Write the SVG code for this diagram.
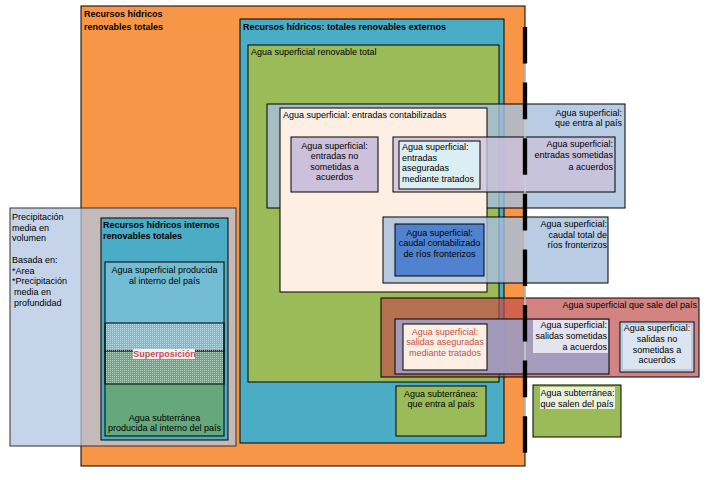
<svg xmlns="http://www.w3.org/2000/svg" width="707" height="480" viewBox="0 0 707 480">
<style>
text{font-family:"Liberation Sans",Arial,sans-serif;font-size:9px;fill:#000}
.b{font-weight:bold}
.m{text-anchor:middle}
.e{text-anchor:end}
.red{fill:#C0504D}
rect{stroke:#000;stroke-width:1}
rect.nb{stroke:none}
</style>
<defs>
<pattern id="dots" width="2" height="2" patternUnits="userSpaceOnUse">
<rect class="nb" x="0" y="0" width="1" height="1" fill="#ffffff" fill-opacity="0.5"/>
</pattern>
</defs>
<rect class="nb" width="707" height="480" fill="#fff"/>

<g id="recursos-totales">
<rect x="81" y="6" width="444" height="460" fill="#F79646"/>
<text class="b" x="84" y="17">Recursos hídricos</text>
<text class="b" x="84" y="30">renovables totales</text>
</g>

<g id="externos">
<rect x="240" y="19" width="264" height="424" fill="#4BACC6"/>
<text class="b" x="243" y="29.5">Recursos hídricos: totales renovables externos</text>
</g>

<g id="superficial-total">
<rect x="248" y="45" width="251" height="337" fill="#9BBB59"/>
<text x="251" y="55">Agua superficial renovable total</text>
</g>

<g id="entra-pais">
<rect x="267" y="104" width="358" height="104" fill="rgb(166,191,221)" fill-opacity="0.8"/>
<text class="e" x="622" y="115.5">Agua superficial:</text>
<text class="e" x="622" y="126">que entra al país</text>
</g>

<g id="entradas-contabilizadas">
<rect x="280" y="108" width="207" height="184" fill="#FDEFE4"/>
<text x="283" y="117.5">Agua superficial: entradas contabilizadas</text>
</g>

<g id="entradas-no-sometidas">
<rect x="291" y="137" width="87" height="55" fill="#CCC0DA"/>
<text class="m" x="334.5" y="148.5">Agua superficial:</text>
<text class="m" x="334.5" y="159">entradas no</text>
<text class="m" x="334.5" y="169.5">sometidas a</text>
<text class="m" x="334.5" y="180">acuerdos</text>
</g>

<g id="entradas-sometidas">
<rect x="393" y="137" width="222" height="55" fill="rgb(204,192,218)" fill-opacity="0.8"/>
<text class="e" x="613" y="146.5">Agua superficial:</text>
<text class="e" x="613" y="158">entradas sometidas</text>
<text class="e" x="613" y="169.5">a acuerdos</text>
</g>

<g id="entradas-aseguradas">
<rect x="399" y="141" width="81" height="48" fill="#DBEEF4"/>
<text x="402" y="150">Agua superficial:</text>
<text x="402" y="160.5">entradas</text>
<text x="402" y="171">aseguradas</text>
<text x="402" y="181.5">mediante tratados</text>
</g>

<g id="caudal-total">
<rect x="383" y="217" width="225" height="66" fill="rgb(166,191,221)" fill-opacity="0.8"/>
<text class="e" x="607" y="227">Agua superficial:</text>
<text class="e" x="607" y="237.5">caudal total de</text>
<text class="e" x="607" y="248">ríos fronterizos</text>
</g>

<g id="caudal-contabilizado">
<rect x="395" y="224" width="89" height="52" fill="#5083CF"/>
<text class="m" x="439.5" y="235.5">Agua superficial:</text>
<text class="m" x="439.5" y="246">caudal contabilizado</text>
<text class="m" x="439.5" y="256.5">de ríos fronterizos</text>
</g>

<g id="sale-pais">
<rect x="381" y="298" width="318" height="79" fill="#C0504D" fill-opacity="0.7"/>
<text class="e" x="697" y="308">Agua superficial que sale del país</text>
</g>

<g id="salidas-sometidas">
<rect x="395" y="319" width="214" height="55" fill="rgb(160,158,196)" fill-opacity="0.9"/>
<rect class="nb" x="533" y="320" width="75" height="33" fill="#E4E3EE"/>
<text class="e" x="607" y="327.5">Agua superficial:</text>
<text class="e" x="607" y="338.5">salidas sometidas</text>
<text class="e" x="607" y="349.5">a acuerdos</text>
</g>

<g id="salidas-aseguradas">
<rect x="403" y="324" width="84" height="46" fill="#FDEFE4"/>
<text class="m red" x="445" y="334.5">Agua superficial:</text>
<text class="m red" x="445" y="345">salidas aseguradas</text>
<text class="m red" x="445" y="355.5">mediante tratados</text>
</g>

<g id="salidas-no-sometidas">
<rect x="620" y="322" width="74" height="50" fill="#DBE5F1"/>
<rect x="622" y="324" width="70" height="46" fill="none" style="stroke:#8EB4E3;stroke-width:1"/>
<text class="m" x="657" y="331">Agua superficial:</text>
<text class="m" x="657" y="342">salidas no</text>
<text class="m" x="657" y="352.5">sometidas a</text>
<text class="m" x="657" y="363">acuerdos</text>
</g>

<g id="subterranea-entra">
<rect x="396" y="386" width="90" height="50" fill="#9BBB59"/>
<text class="m" x="441" y="396.5">Agua subterránea:</text>
<text class="m" x="441" y="407">que entra al país</text>
</g>

<g id="subterranea-sale">
<rect x="533" y="385" width="88" height="52" fill="#9BBB59"/>
<rect class="nb" x="540" y="387" width="75" height="22" fill="#EAF0DC"/>
<text x="540.5" y="396">Agua subterránea:</text>
<text x="540.5" y="406.5">que salen del país</text>
</g>

<g id="precipitacion">
<rect x="10" y="208" width="226" height="238" fill="rgb(177,197,224)" fill-opacity="0.75" style="stroke:#333"/>
<text x="12" y="220">Precipitación</text>
<text x="12" y="230.7">media en</text>
<text x="12" y="241.4">volumen</text>
<text x="12" y="262.8">Basada en:</text>
<text x="12" y="273.5">*Area</text>
<text x="12" y="284.2">*Precipitación</text>
<text x="14" y="294.9">media en</text>
<text x="14" y="305.6">profundidad</text>
</g>

<g id="internos">
<rect x="101" y="218" width="127" height="222" fill="#4BACC6"/>
<text class="b" x="103" y="228">Recursos hídricos internos</text>
<text class="b" x="103" y="239">renovables totales</text>
</g>

<g id="superficial-interna">
<rect x="105" y="262" width="119" height="89" fill="#72BCD4"/>
<text class="m" x="164.5" y="273">Agua superficial producida</text>
<text class="m" x="164.5" y="283.5">al interno del país</text>
</g>

<g id="subterranea-interna">
<rect x="105" y="351" width="119" height="85" fill="#65A87C"/>
<text class="m" x="164.5" y="420.5">Agua subterránea</text>
<text class="m" x="164.5" y="431">producida al interno del país</text>
</g>

<g id="superposicion">
<rect x="105" y="323" width="119" height="61" fill="url(#dots)"/>
<rect class="nb" x="133" y="349" width="62" height="10" fill="#FDEFEF"/>
<text class="m b red" x="164.5" y="357">Superposición</text>
</g>

<g id="connectors">
<line x1="525" y1="27" x2="525" y2="453" stroke="#cfcfcf" stroke-width="1.5"/>
<line x1="525" y1="27" x2="525" y2="453" stroke="#000" stroke-width="4.3" stroke-dasharray="36.6 19"/>
</g>
</svg>
